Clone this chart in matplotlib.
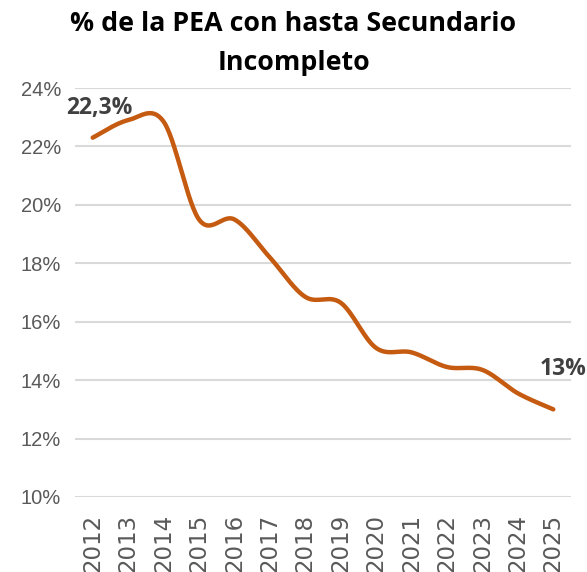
import numpy as np
import matplotlib
matplotlib.use("Agg")
import matplotlib.pyplot as plt

years = ["2012", "2013", "2014", "2015", "2016", "2017", "2018", "2019",
         "2020", "2021", "2022", "2023", "2024", "2025"]
values = [22.3, 22.9, 22.85, 19.5, 19.5, 18.2, 16.85, 16.65,
          15.1, 14.95, 14.45, 14.35, 13.55, 13.0]
yticks = [10, 12, 14, 16, 18, 20, 22, 24]
title = "% de la PEA con hasta Secundario\nIncompleto"
label_first = "22,3%"
label_last = "13%"

line_color = "#C55A11"
grid_color = "#D9D9D9"
tick_color = "#595959"


def smooth(xs, ys, n=30):
    xs = np.asarray(xs, float)
    ys = np.asarray(ys, float)
    px, py = [], []
    m = len(xs)
    for i in range(m - 1):
        x0, y0 = xs[i], ys[i]
        x3, y3 = xs[i + 1], ys[i + 1]
        xp = xs[i - 1] if i > 0 else x0
        yp = ys[i - 1] if i > 0 else y0
        xn = xs[i + 2] if i + 2 < m else x3
        yn = ys[i + 2] if i + 2 < m else y3
        x1 = x0 + (x3 - xp) / 6
        y1 = y0 + (y3 - yp) / 6
        x2 = x3 - (xn - x0) / 6
        y2 = y3 - (yn - y0) / 6
        t = np.linspace(0, 1, n, endpoint=(i == m - 2))
        b0 = (1 - t) ** 3
        b1 = 3 * (1 - t) ** 2 * t
        b2 = 3 * (1 - t) * t ** 2
        b3 = t ** 3
        px.append(b0 * x0 + b1 * x1 + b2 * x2 + b3 * x3)
        py.append(b0 * y0 + b1 * y1 + b2 * y2 + b3 * y3)
    return np.concatenate(px), np.concatenate(py)


fig = plt.figure(figsize=(5.87, 5.72), dpi=100)
ax = fig.add_axes([75 / 587, 1 - 497 / 572, 496 / 587, (497 - 88) / 572])

x = np.arange(len(years))
sx, sy = smooth(x, values)
ax.plot(sx, sy, color=line_color, lw=3.2, solid_capstyle="round", zorder=3)

ax.set_xlim(-0.5, len(years) - 0.5)
ax.set_ylim(10, 24)
ax.set_yticks(yticks)
ax.set_yticklabels([f"{v}%" for v in yticks], fontfamily="Liberation Sans",
                   fontsize=14.5, color=tick_color)
ax.set_xticks(x)
ax.set_xticklabels(years, rotation=90, fontfamily="DejaVu Sans",
                   fontsize=16.5, color=tick_color, va="top")
ax.tick_params(axis="both", length=0)
ax.tick_params(axis="y", pad=10)
ax.tick_params(axis="x", pad=12)
ax.yaxis.grid(True, color=grid_color, lw=1.5)
ax.set_axisbelow(True)
for s in ax.spines.values():
    s.set_visible(False)

ax.annotate(label_first, (x[0], values[0]), xytext=(5, 21.5),
            textcoords="offset points", ha="center", va="center",
            fontfamily="Open Sans", fontweight="bold", fontsize=16.5, color="#404040")
ax.annotate(label_last, (x[-1], values[-1]), xytext=(7, 29),
            textcoords="offset points", ha="center", va="center",
            fontfamily="Open Sans", fontweight="bold", fontsize=16.5, color="#404040")

fig.text(0.5, 1 - 43.5 / 572, title, ha="center", va="center",
         fontfamily="Open Sans", fontweight="bold", fontsize=19.3,
         linespacing=1.62, color="black")

fig.savefig("out.png", dpi=100)
